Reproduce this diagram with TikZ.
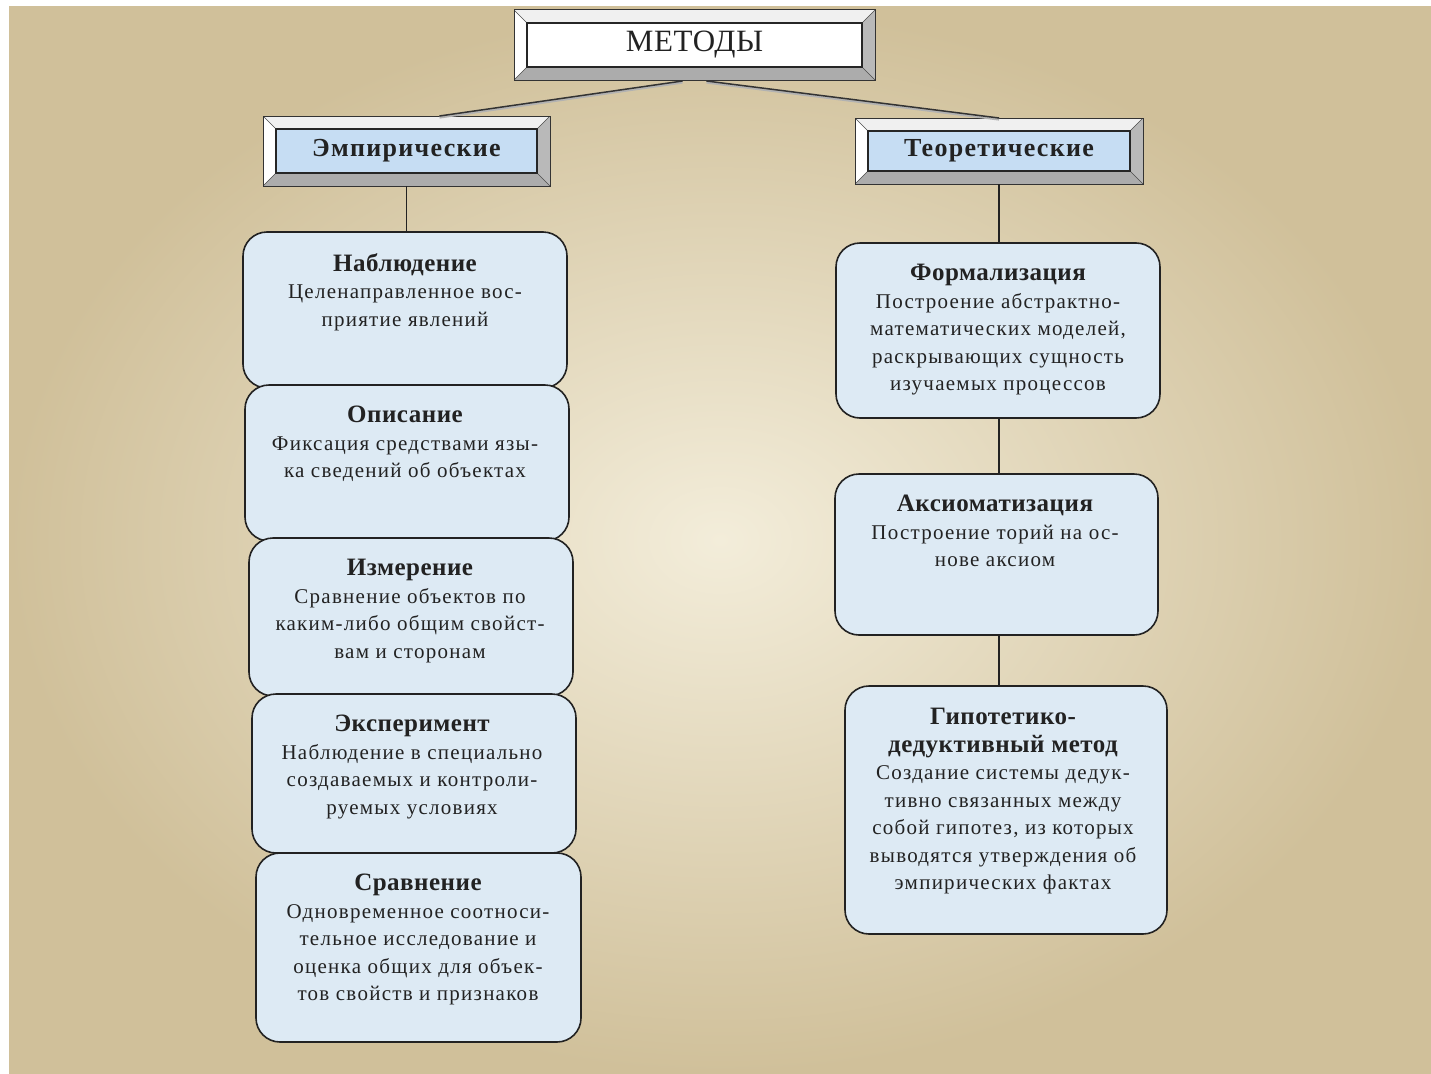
\documentclass[tikz,border=0pt]{standalone}
\usepackage{fontspec}
\setmainfont{Liberation Serif}
\usetikzlibrary{calc}
\definecolor{bgout}{HTML}{D0C09A}
\definecolor{bgin}{HTML}{F3EDDA}
\definecolor{boxblue}{HTML}{DDEAF4}
\definecolor{headblue}{HTML}{C6DDF3}
\definecolor{ink}{HTML}{222222}
\newcommand\bevelpaint[2]{%
  \fill[gray!12] (path picture bounding box.north west) -- (path picture bounding box.north east) -- ($(path picture bounding box.north east)+(-#1,#1)$) -- ($(path picture bounding box.north west)+(#1,#1)$) -- cycle;
  \fill[white] (path picture bounding box.north west) -- ($(path picture bounding box.north west)+(#1,#1)$) -- ($(path picture bounding box.south west)+(#1,-#1)$) -- (path picture bounding box.south west) -- cycle;
  \fill[gray!55] (path picture bounding box.north east) -- ($(path picture bounding box.north east)+(-#1,#1)$) -- ($(path picture bounding box.south east)+(-#1,-#1)$) -- (path picture bounding box.south east) -- cycle;
  \fill[gray!65] (path picture bounding box.south west) -- ($(path picture bounding box.south west)+(#1,-#1)$) -- ($(path picture bounding box.south east)+(-#1,-#1)$) -- (path picture bounding box.south east) -- cycle;
  \draw[black!70, line width=0.6pt] (path picture bounding box.north west) -- ($(path picture bounding box.north west)+(#1,#1)$)
    (path picture bounding box.north east) -- ($(path picture bounding box.north east)+(-#1,#1)$)
    (path picture bounding box.south west) -- ($(path picture bounding box.south west)+(#1,-#1)$)
    (path picture bounding box.south east) -- ($(path picture bounding box.south east)+(-#1,-#1)$);
  \filldraw[fill=#2, draw=black!85, line width=1.4pt] ($(path picture bounding box.north west)+(#1,#1)$) rectangle ($(path picture bounding box.south east)+(-#1,-#1)$);
}
\tikzset{
  bevel/.style 2 args={draw=black!80, line width=1pt, inner sep=0pt, outer sep=0pt,
    path picture={\bevelpaint{#1}{#2}}},
  rbox/.style={draw=ink, line width=1.6pt, fill=boxblue, rounded corners=24pt, inner sep=0pt, outer sep=0pt},
  txt/.style={anchor=north, align=center, inner sep=0pt, text=ink, font=\fontsize{21}{27.5}\selectfont\addfontfeature{LetterSpace=6}},
  conn/.style={draw=ink, line width=1.3pt},
  topconn/.style={draw=black!80, line width=1.5pt, preaction={draw=gray!60, line width=2.2pt, transform canvas={yshift=-1.5pt}}},
}
\newcommand\ttl[1]{{\bfseries\fontsize{25}{27.5}\selectfont\addfontfeature{LetterSpace=2}#1}}
\begin{document}
\begin{tikzpicture}[x=1pt, y=-1pt]
\useasboundingbox (0,0) rectangle (1431,1073);
\fill[white] (0,0) rectangle (1431,1073);
\shade[inner color=bgin, outer color=bgout] (9,7) rectangle (1431,1073);

% header boxes
\node[bevel={13}{white}, minimum width=361pt, minimum height=70pt, text=ink, font=\fontsize{31}{34}\selectfont\addfontfeature{LetterSpace=2}] (m) at (694.5,45) {МЕТОДЫ};
\node[bevel={13}{headblue}, minimum width=287pt, minimum height=70pt, text=ink, font=\bfseries\fontsize{26}{29}\selectfont\addfontfeature{LetterSpace=5}] (emp) at (406.5,151) {Эмпирические};
\node[bevel={13}{headblue}, minimum width=288pt, minimum height=66pt, text=ink, font=\bfseries\fontsize{26}{29}\selectfont\addfontfeature{LetterSpace=5}] (teo) at (999,151) {Теоретические};

\draw[topconn] ($(m.south)+(-12,1)$) -- ($(emp.north)+(33,0)$);
\draw[topconn] ($(m.south)+(12,1)$) -- (teo.north);

% left column
\node[rbox, minimum width=324pt, minimum height=156pt] (n1) at (405,310) {};
\node[rbox, minimum width=324pt, minimum height=156pt] (n2) at (407,463) {};
\node[rbox, minimum width=324pt, minimum height=158pt] (n3) at (411,617) {};
\node[rbox, minimum width=324pt, minimum height=159pt] (n4) at (414,773.5) {};
\node[rbox, minimum width=325pt, minimum height=189pt] (n5) at (418.5,947.5) {};

\draw[conn] (emp.south) -- (emp.south |- n1.north);

\node[txt] (t1) at (405,253) {\ttl{Наблюдение}\\Целенаправленное вос-\\приятие явлений};
\node[txt] (t2) at (405,406) {\ttl{Описание}\\Фиксация средствами язы-\\ка сведений об объектах};
\node[txt] (t3) at (410,559) {\ttl{Измерение}\\Сравнение объектов по\\каким-либо общим свойст-\\вам и сторонам};
\node[txt] (t4) at (412,715) {\ttl{Эксперимент}\\Наблюдение в специально\\создаваемых и контроли-\\руемых условиях};
\node[txt] (t5) at (418,874) {\ttl{Сравнение}\\Одновременное соотноси-\\тельное исследование и\\оценка общих для объек-\\тов свойств и признаков};

% right column
\node[rbox, minimum width=324pt, minimum height=175pt] (n6) at (998,330.5) {};
\node[rbox, minimum width=323pt, minimum height=161pt] (n7) at (996.5,554.5) {};
\node[rbox, minimum width=322pt, minimum height=248pt] (n8) at (1006,810) {};

\draw[conn] (teo.south) -- (teo.south |- n6.north);
\draw[conn] (n6.south -| teo.south) -- (n7.north -| teo.south);
\draw[conn] (n7.south -| teo.south) -- (n8.north -| teo.south);

\node[txt] (t6) at (998,264) {\ttl{Формализация}\\Построение абстрактно-\\математических моделей,\\раскрывающих сущность\\изучаемых процессов};
\node[txt] (t7) at (995,495) {\ttl{Аксиоматизация}\\Построение торий на ос-\\нове аксиом};
\node[txt] (t8) at (1003,708) {\ttl{Гипотетико-}\\\ttl{дедуктивный метод}\\Создание системы дедук-\\тивно связанных между\\собой гипотез, из которых\\выводятся утверждения об\\эмпирических фактах};
\end{tikzpicture}
\end{document}
